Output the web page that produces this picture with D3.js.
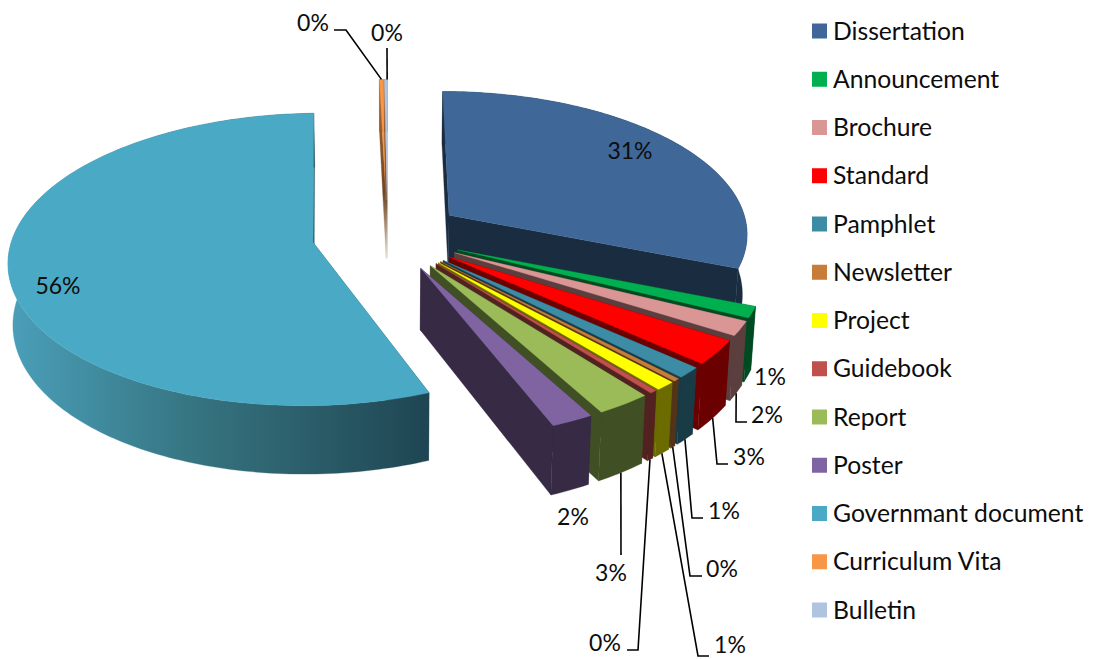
<!DOCTYPE html>
<html>
<head>
<meta charset="utf-8">
<script src="https://cdn.jsdelivr.net/npm/d3@7"></script>
<style>
    html, body { margin: 0; padding: 0; background: #fff; }
    text { font-family: Lato, "Open Sans", sans-serif; fill: #0d0d0d; }
</style>
</head>
<body>
<div id="chart"></div>
<script>
// values, in percent
const categories = ['Dissertation', 'Announcement', 'Brochure', 'Standard', 'Pamphlet', 'Newsletter', 'Project',
    'Guidebook', 'Report', 'Poster', 'Governmant document', 'Curriculum Vita', 'Bulletin'];
const shares = [31.1, 1.25, 1.6, 2.7, 1.2, 0.3, 0.95, 0.35, 2.6, 2, 55.7, 0.25, 0.17];
const colors = ['#3f6899', '#00b050', '#d99694', '#ff0000', '#3c8ca5', '#c77c3a', '#ffff00',
    '#c0504d', '#9bbb59', '#8064a2', '#4aa9c4', '#f79646', '#b0c3e0'];

// label placement, per category: text centre and the bend of the leader line
const labelLayout = [
    { x: 630, y: 151 },
    { x: 770, y: 377 },
    { x: 767, y: 415, leader: [[736, 422], [747, 422]] },
    { x: 749, y: 457, leader: [[717, 464], [728, 464]] },
    { x: 724, y: 511, leader: [[692, 518], [703, 518]] },
    { x: 722, y: 569, leader: [[690, 576], [702, 576]] },
    { x: 730, y: 645, leader: [[698, 656], [709, 656]] },
    { x: 605, y: 643, leader: [[638, 650], [627, 650]] },
    { x: 611, y: 573, leader: [[621, 555]] },
    { x: 573, y: 517 },
    { x: 58, y: 286 },
    { x: 313, y: 23, leader: [[346, 30], [334, 30]] },
    { x: 387, y: 33, leader: [[387, 48]] }
];

const width = 1096, height = 659;
const view = { cx: 387.5, cy: 235, fx: 300, fy: 142.5, persp: 0.117, explode: 0.252, depth: 60, shrink: 0.987 };

const svg = d3.select('#chart').append('svg')
    .attr('width', width)
    .attr('height', height);
const defs = svg.append('defs');

const pie = d3.pie().sort(null).startAngle(0).endAngle(2 * Math.PI);
const arcs = pie(shares);

// plan position on the exploded disc -> screen, bottom=true gives the underside
function project(theta, r, mid, bottom) {
    const X = r * Math.sin(theta) + view.explode * Math.sin(mid);
    const Z = r * Math.cos(theta) + view.explode * Math.cos(mid);
    const p = 1 / (1 + view.persp * Z);
    const sx = view.fx * X * p;
    const sy = -view.fy * Z * p;
    if (!bottom) return [view.cx + sx, view.cy + sy];
    return [view.cx + sx * view.shrink, view.cy + sy + view.depth * p];
}

function arcPoints(a, mid, bottom) {
    const n = Math.max(2, Math.ceil((a.endAngle - a.startAngle) / 0.02));
    return d3.range(n + 1).map(function (i) {
        return project(a.startAngle + (a.endAngle - a.startAngle) * i / n, 1, mid, bottom);
    });
}

const shape = d3.line().curve(d3.curveLinearClosed);
const shade = function (c) { return d3.interpolateRgb(c, '#000')(0.58); };

// government wall runs light to dark, the slivers fade out toward the centre
const govGrad = defs.append('linearGradient').attr('id', 'govWall')
    .attr('gradientUnits', 'userSpaceOnUse')
    .attr('x1', 10).attr('x2', 433).attr('y1', 0).attr('y2', 0);
govGrad.append('stop').attr('offset', 0).attr('stop-color', '#4a9fb9');
govGrad.append('stop').attr('offset', 0.45).attr('stop-color', '#35737f');
govGrad.append('stop').attr('offset', 1).attr('stop-color', '#1e4551');

const slivGrad = defs.append('linearGradient').attr('id', 'sliver')
    .attr('gradientUnits', 'userSpaceOnUse')
    .attr('x1', 0).attr('x2', 0).attr('y1', 90).attr('y2', 262);
slivGrad.append('stop').attr('offset', 0).attr('stop-color', '#a8662e');
slivGrad.append('stop').attr('offset', 0.6).attr('stop-color', '#6f4522');
slivGrad.append('stop').attr('offset', 1).attr('stop-color', '#e9ddd0');

function wallFill(i) {
    if (i === 10) return 'url(#govWall)';
    if (i > 10) return 'url(#sliver)';
    return shade(colors[i]);
}

function drawSlice(i) {
    const a = arcs[i];
    const mid = (a.startAngle + a.endAngle) / 2;
    const g = svg.append('g').attr('class', 'slice');
    const apexTop = project(0, 0, mid, false);
    const apexBot = project(0, 0, mid, true);
    const startTop = project(a.startAngle, 1, mid, false);
    const startBot = project(a.startAngle, 1, mid, true);
    const endTop = project(a.endAngle, 1, mid, false);
    const endBot = project(a.endAngle, 1, mid, true);
    const top = arcPoints(a, mid, false);
    const bot = arcPoints(a, mid, true);
    const faces = [
        [apexTop, startTop, startBot, apexBot],
        [apexTop, endTop, endBot, apexBot],
        top.concat(bot.slice().reverse())
    ];
    faces.forEach(function (f) {
        g.append('path').attr('d', shape(f)).attr('fill', wallFill(i))
            .attr('stroke', wallFill(i)).attr('stroke-width', 0.3);
    });
    g.append('path').attr('d', shape([apexTop].concat(top))).attr('fill', colors[i])
        .attr('stroke', colors[i]).attr('stroke-width', 0.3);
}

// back to front
[11, 12, 0, 10, 1, 2, 3, 4, 5, 6, 7, 8, 9].forEach(drawSlice);

// data labels
const total = d3.sum(shares);
const line = d3.line();
labelLayout.forEach(function (l, i) {
    const a = arcs[i];
    const mid = (a.startAngle + a.endAngle) / 2;
    if (l.leader) {
        // the bulletin leader drops straight onto the outer edge of its sliver
        let start = project(mid, 1, mid, true);
        if (i === 11) start = project(mid, 1, mid, false);
        if (i === 12) start = project(a.endAngle, 1, mid, false);
        svg.append('path').attr('d', line([start].concat(l.leader)))
            .attr('fill', 'none').attr('stroke', '#000').attr('stroke-width', 1.6);
    }
    svg.append('text').attr('x', l.x).attr('y', l.y + 8)
        .attr('text-anchor', 'middle').attr('font-size', 23)
        .text(Math.round(shares[i] / total * 100) + '%');
});

// legend
const legendY = d3.scalePoint().domain(categories).range([31, 610]);
const legend = svg.selectAll('.legend').data(categories).enter().append('g')
    .attr('class', 'legend')
    .attr('transform', function (d) { return 'translate(812,' + legendY(d) + ')'; });
legend.append('rect').attr('y', -7.5).attr('width', 15).attr('height', 15)
    .attr('fill', function (d, i) { return colors[i]; });
legend.append('text').attr('x', 21).attr('y', 8.5).attr('font-size', 24.7)
    .text(function (d) { return d; });
</script>
</body>
</html>
